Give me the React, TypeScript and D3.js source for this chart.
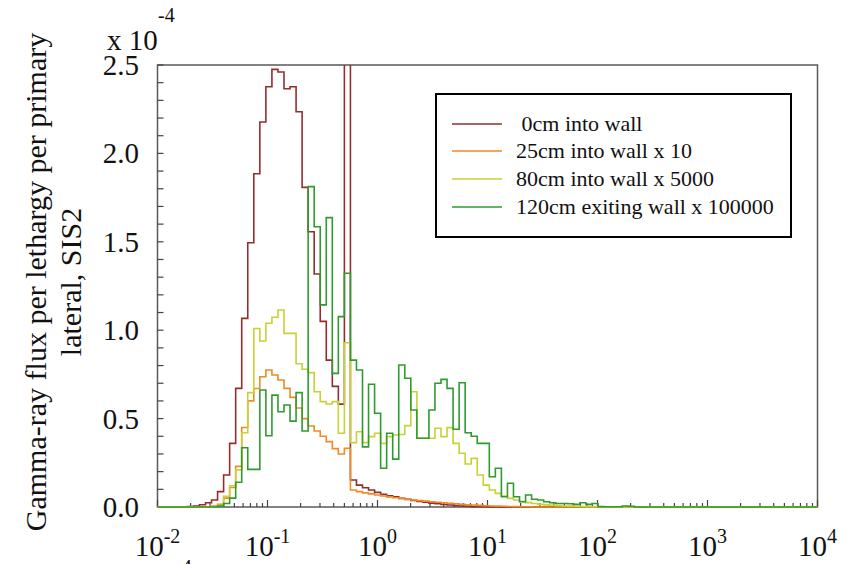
import React from "react";
import * as d3 from "d3";

// Histogram binning (log-spaced energy bins, MeV)
const BIN_EDGE_REF = 0.5; // lower edge of bin 0
const BIN_LOG_WIDTH = 0.0549; // decades per bin
const FIRST_BIN = -31;
const LAST_BIN = 79;

// Series values (x 1e-4), starting at the given bin index
const redStart = -26;
const redValues = [
  0.002, 0.006, 0.013, 0.024, 0.04, 0.087, 0.181, 0.36, 0.671, 1.067,
  1.495, 1.885, 2.178, 2.377, 2.475, 2.46, 2.366, 2.377, 2.236, 1.808,
  1.557, 1.318, 1.05, 0.831, 0.682, 0.582, 8.0, 0.153, 0.124, 0.109,
  0.096, 0.083, 0.072, 0.064, 0.057, 0.049, 0.043, 0.037, 0.032, 0.027,
  0.022, 0.018, 0.014, 0.011, 0.008, 0.006, 0.004, 0.002, 0.001,
];

const orangeStart = -22;
const orangeValues = [
  0.005, 0.015, 0.05, 0.11, 0.23, 0.45, 0.6, 0.67, 0.737, 0.775,
  0.747, 0.718, 0.671, 0.62, 0.56, 0.5, 0.458, 0.43, 0.4, 0.37,
  0.33, 0.3, 0.332, 0.096, 0.087, 0.08, 0.074, 0.068, 0.062, 0.057,
  0.052, 0.048, 0.044, 0.04, 0.036, 0.033, 0.03, 0.027, 0.024, 0.021,
  0.018, 0.015, 0.013, 0.011, 0.009, 0.007, 0.006, 0.005, 0.004, 0.003,
  0.002, 0.001, 0.001,
];

const yellowStart = -21;
const yellowValues = [
  0.01, 0.06, 0.12, 0.21, 0.42, 0.647, 1.01, 0.939, 1.039, 1.073,
  1.114, 0.982, 0.982, 0.81, 0.779, 0.76, 0.652, 0.596, 0.583, 0.596,
  0.417, 0.929, 0.364, 0.426, 0.364, 0.398, 0.417, 0.36, 0.398, 0.407,
  0.41, 0.46, 0.652, 0.389, 0.389, 0.389, 0.445, 0.398, 0.449, 0.36,
  0.304, 0.243, 0.275, 0.181, 0.124, 0.096, 0.077, 0.062, 0.049, 0.04,
  0.031, 0.025, 0.02, 0.015, 0.012, 0.01, 0.008, 0.006, 0.005, 0.004,
  0.003, 0.002, 0.001,
];

const greenStart = -21;
const greenValues = [
  0.005, 0.02, 0.05, 0.14, 0.335, 0.213, 0.213, 0.662, 0.403, 0.633,
  0.539, 0.577, 0.486, 0.647, 0.43, 1.812, 1.585, 1.143, 1.637, 0.756,
  1.077, 1.322, 0.831, 0.775, 0.34, 0.694, 0.53, 0.219, 0.417, 0.271,
  0.803, 0.728, 0.549, 0.389, 0.389, 0.549, 0.7, 0.722, 0.671, 0.44,
  0.703, 0.42, 0.4, 0.36, 0.36, 0.171, 0.219, 0.058, 0.134, 0.058,
  0.03, 0.068, 0.044, 0.04, 0.03, 0.024, 0.02, 0.02, 0.018, 0.015,
  0.024, 0.015, 0.02, 0.002, 0.001, 0.001, 0.001, 0.006, 0.004,
];

const seriesLabels = [
  "\u00a00cm into wall",
  "25cm into wall x 10",
  "80cm into wall x 5000",
  "120cm exiting wall x 100000",
];
const seriesColors = ["#962D2D", "#F08A24", "#C9D134", "#2F9B2F"];

const yTickValues = [0, 0.5, 1.0, 1.5, 2.0, 2.5];
const yTickLabels = ["0.0", "0.5", "1.0", "1.5", "2.0", "2.5"];
const xTickExponents = [-2, -1, 0, 1, 2, 3, 4];
const yAxisTitle = ["Gamma-ray flux per lethargy per primary", "lateral, SIS2"];

const W = 855;
const H = 564;
const M = { left: 157.5, right: 817.5, top: 65, bottom: 507 };
const FONT = '"Liberation Serif", "Times New Roman", "DejaVu Serif", serif';

export default function App() {
  const x = d3.scaleLog().domain([1e-2, 1e4]).range([M.left, M.right]);
  const y = d3.scaleLinear().domain([0, 2.5]).range([M.bottom, M.top]);

  const edge = (k: number) => BIN_EDGE_REF * Math.pow(10, k * BIN_LOG_WIDTH);
  const stepPoints = (start: number, values: number[]) => {
    const pts: [number, number][] = [];
    for (let k = FIRST_BIN; k <= LAST_BIN; k++) {
      const i = k - start;
      const v = i >= 0 && i < values.length ? values[i] : 0;
      pts.push([edge(k), v]);
    }
    pts.push([edge(LAST_BIN + 1), 0]);
    return pts;
  };
  const line = d3
    .line<[number, number]>()
    .x((d) => x(d[0]))
    .y((d) => y(d[1]))
    .curve(d3.curveStepAfter);

  const series = [
    stepPoints(redStart, redValues),
    stepPoints(orangeStart, orangeValues),
    stepPoints(yellowStart, yellowValues),
    stepPoints(greenStart, greenValues),
  ];

  const yMinor = d3.range(0, 26).map((i) => i / 10);
  const xMinor: number[] = [];
  for (let e = -2; e < 4; e++) {
    for (let m = 2; m <= 9; m++) xMinor.push(m * Math.pow(10, e));
  }

  const legendRows = [124, 151, 179, 207];
  const ts = { fontFamily: FONT };

  return (
    <svg
      width={W}
      height={H}
      style={{ position: "absolute", left: 0, top: 0, background: "#fff", fontFamily: FONT }}
    >
      <defs>
        <clipPath id="plotClip">
          <rect x={M.left} y={M.top} width={M.right - M.left} height={M.bottom - M.top + 2} />
        </clipPath>
      </defs>
      <rect x={0} y={0} width={W} height={H} fill="#fff" />

      {/* frame */}
      <rect
        x={M.left}
        y={M.top}
        width={M.right - M.left}
        height={M.bottom - M.top}
        fill="none"
        stroke="#5a5a5a"
        strokeWidth={1.5}
      />

      {/* y ticks */}
      {yMinor.map((v, i) => (
        <line key={"yt" + i} x1={M.left} x2={M.left + 6} y1={y(v)} y2={y(v)} stroke="#444" strokeWidth={1.2} />
      ))}
      {/* x ticks */}
      {xMinor.map((v, i) => (
        <line key={"xm" + i} x1={x(v)} x2={x(v)} y1={M.bottom} y2={M.bottom - 4} stroke="#444" strokeWidth={1.2} />
      ))}
      {xTickExponents.map((e) => (
        <line key={"xM" + e} x1={x(Math.pow(10, e))} x2={x(Math.pow(10, e))} y1={M.bottom} y2={M.bottom - 7} stroke="#444" strokeWidth={1.2} />
      ))}

      {/* series */}
      <g clipPath="url(#plotClip)">
        {series.map((pts, i) => (
          <path key={"s" + i} d={line(pts) || ""} fill="none" stroke={seriesColors[i]} strokeWidth={1.6} />
        ))}
      </g>

      {/* y tick labels */}
      {yTickValues.map((v, i) => (
        <text key={"yl" + i} x={139} y={y(v) + 10} textAnchor="end" fontSize={29} fill="#111" style={ts}>
          {yTickLabels[i]}
        </text>
      ))}
      {/* multiplier */}
      <text x={107} y={50} fontSize={29} fill="#111" style={ts}>
        x 10
      </text>
      <text x={158} y={22} fontSize={20} fill="#111" style={ts}>
        -4
      </text>

      {/* x tick labels */}
      {xTickExponents.map((e) => (
        <text key={"xl" + e} x={x(Math.pow(10, e))} y={556} textAnchor="middle" fontSize={29} fill="#111" style={ts}>
          10
          <tspan dy={-13} fontSize={20}>
            {String(e)}
          </tspan>
        </text>
      ))}
      <text x={181} y={574} fontSize={22} fill="#111" style={ts}>
        4
      </text>

      {/* y axis title */}
      {yAxisTitle.map((t, i) => (
        <text
          key={"yt" + i}
          transform={`translate(${i === 0 ? 46 : 81},282) rotate(-90)`}
          textAnchor="middle"
          fontSize={30}
          fill="#111"
          style={ts}
        >
          {t}
        </text>
      ))}

      {/* legend */}
      <rect x={436} y={94} width={355} height={143} fill="#fff" stroke="#000" strokeWidth={2} />
      {seriesLabels.map((t, i) => (
        <g key={"lg" + i}>
          <line x1={452} x2={502} y1={legendRows[i]} y2={legendRows[i]} stroke={seriesColors[i]} strokeWidth={1.6} />
          <text x={516} y={legendRows[i] + 7} fontSize={22} fill="#111" style={ts}>
            {t}
          </text>
        </g>
      ))}
    </svg>
  );
}
